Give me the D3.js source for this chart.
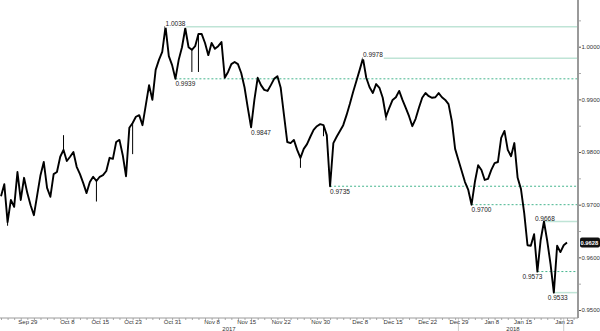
<!DOCTYPE html>
<html>
<head>
<meta charset="utf-8">
<style>
  body { margin: 0; background: #fff; }
  svg { display: block; font-family: "Liberation Sans", Arial, sans-serif; }
  .price { fill: none; stroke: #000; stroke-width: 1.9px; stroke-linejoin: round; }
  .wick { stroke: #000; stroke-width: 1px; }
  .lvl-solid { stroke: #bfe4d6; stroke-width: 1.5px; }
  .lvl-dashed { stroke: #45b58e; stroke-width: 1px; stroke-dasharray: 2,2; }
  .lvl-label { font-size: 6.5px; fill: #222; }
  .frame { stroke: #9a9a9a; fill: none; }
  .axis text { font-size: 6px; fill: #333; font-family: "Liberation Sans", Arial, sans-serif; }
  .axis .domain { display: none; }
  .axis line { stroke: #555; }
  .minor line { stroke: #aaa; }
</style>
</head>
<body>
<div id="chart"></div>
<script src="https://d3js.org/d3.v7.min.js"></script>
<script>
  var width = 600, height = 331;

  // half-day closes
  var closes = [
    0.9716, 0.9739, 0.9667, 0.9709, 0.9696, 0.9762, 0.9709, 0.9751, 0.9722, 0.9699,
    0.9680, 0.9718, 0.9756, 0.9781, 0.9732, 0.9715, 0.9758, 0.9762, 0.9791, 0.9804,
    0.9783, 0.9791, 0.9800, 0.9772, 0.9758, 0.9741, 0.9722, 0.9743, 0.9753, 0.9745,
    0.9753, 0.9756, 0.9764, 0.9789, 0.9787, 0.9819, 0.9823, 0.9794, 0.9754, 0.9846,
    0.9855, 0.9867, 0.9870, 0.9851, 0.9889, 0.9927, 0.9899, 0.9956, 0.9975, 0.9990,
    1.0038, 0.9982, 0.9965, 0.9939, 0.9975, 0.9999, 1.0035, 0.9999, 0.9994, 1.0001,
    1.0024, 1.0024, 1.0007, 0.9984, 1.0007, 0.9996, 1.0001, 1.0009, 0.9941, 0.9952,
    0.9967, 0.9971, 0.9967, 0.9950, 0.9923, 0.9884, 0.9847, 0.9899, 0.9941, 0.9927,
    0.9918, 0.9916, 0.9927, 0.9939, 0.9944, 0.9922, 0.9870, 0.9819, 0.9817, 0.9823,
    0.9804, 0.9789, 0.9806, 0.9815, 0.9829, 0.9842, 0.9849, 0.9853, 0.9851, 0.9832,
    0.9735, 0.9817, 0.9829, 0.9840, 0.9851, 0.9870, 0.9891, 0.9914, 0.9935, 0.9956,
    0.9978, 0.9941, 0.9923, 0.9912, 0.9929, 0.9922, 0.9903, 0.9867, 0.9884, 0.9899,
    0.9904, 0.9916, 0.9899, 0.9884, 0.9868, 0.9849, 0.9863, 0.9884, 0.9903, 0.9912,
    0.9906, 0.9903, 0.9904, 0.9912, 0.9904, 0.9899, 0.9891, 0.9859, 0.9806, 0.9785,
    0.9764, 0.9743, 0.9728, 0.9700, 0.9743, 0.9775, 0.9766, 0.9747, 0.9749, 0.9766,
    0.9779, 0.9781, 0.9827, 0.9840, 0.9804, 0.9792, 0.9817, 0.9751, 0.9730, 0.9684,
    0.9623, 0.9622, 0.9644, 0.9573, 0.9633, 0.9668, 0.9631, 0.9587, 0.9533, 0.9622,
    0.9610, 0.9623, 0.9628
  ];

  // a few visible wicks: [bar, extreme]
  var wicks = [[2, 0.9660], [19, 0.9832], [29, 0.9706], [40, 0.9796], [58, 0.9952],
               [60, 0.9952], [91, 0.9770], [98, 0.9830], [117, 0.9860]];

  var levelValues = [1.0038, 0.9978, 0.9939, 0.9847, 0.9735, 0.9700, 0.9668, 0.9573, 0.9533];
  var levelBars   = [50, 110, 53, 76, 100, 143, 165, 163, 168];
  var levelKinds  = ["solid", "solid", "dashed", "none", "dashed", "dashed", "solid", "dashed", "solid"];
  var levelSides  = ["high", "high", "low", "low", "low", "low", "high", "low", "low"];

  var tickBars   = [8, 20, 30, 40, 52, 64, 74.5, 85, 97, 109, 119, 129.5, 139, 149, 158.5, 171];
  var tickLabels = ["Sep 29", "Oct 8", "Oct 15", "Oct 23", "Oct 31", "Nov 8", "Nov 15", "Nov 22",
                    "Nov 30", "Dec 8", "Dec 15", "Dec 22", "Dec 29", "Jan 8", "Jan 15", "Jan 23"];
  var yearBars   = [69.3, 155.6];
  var yearLabels = ["2017", "2018"];
  var yearMarks  = [139, 171];

  var priceTicks = [0.95, 0.96, 0.97, 0.98, 0.99, 1.00];
  var priceMinor = [0.955, 0.965, 0.975, 0.985, 0.995, 1.005];

  var axisX = 578, axisY = 318;

  var x = d3.scaleLinear().domain([0, closes.length - 1]).range([1, 567]);
  var y = d3.scaleLinear().domain([0.95, 1.0]).range([310, 46.7]);

  var svg = d3.select("#chart").append("svg")
      .attr("width", width)
      .attr("height", height);

  // level lines
  levelValues.forEach(function(v, i) {
    if (levelKinds[i] === "none") return;
    svg.append("line")
        .attr("class", "lvl-" + levelKinds[i])
        .attr("x1", x(levelBars[i])).attr("x2", axisX)
        .attr("y1", y(v)).attr("y2", y(v));
  });

  // price line
  var line = d3.line()
      .x(function(d, i) { return x(i); })
      .y(function(d) { return y(d); });

  svg.append("g").selectAll("line")
      .data(wicks)
      .enter().append("line")
      .attr("class", "wick")
      .attr("x1", function(d) { return x(d[0]); })
      .attr("x2", function(d) { return x(d[0]); })
      .attr("y1", function(d) { return y(closes[d[0]]); })
      .attr("y2", function(d) { return y(d[1]); });

  svg.append("path")
      .datum(closes)
      .attr("class", "price")
      .attr("d", line);

  // level labels
  var fmt = d3.format(".4f");
  levelValues.forEach(function(v, i) {
    var lx = x(levelBars[i]), ly = y(v);
    var anchor = "start";
    if (v === 0.9573) { anchor = "end"; lx += 5; }
    if (v === 0.9533) { lx -= 6; }
    if (v === 0.9668) { lx -= 9; }
    var t = svg.append("text")
        .attr("class", "lvl-label")
        .attr("text-anchor", anchor)
        .attr("x", lx)
        .attr("y", levelSides[i] === "high" ? ly - 1 : ly + 7.5)
        .text(fmt(v));
    if (levelSides[i] === "high" && levelKinds[i] === "solid" && v > 0.99) {
      var b = t.node().getBBox();
      svg.insert("rect", "text.lvl-label")
          .attr("x", b.x - 0.5).attr("y", b.y)
          .attr("width", b.width + 1).attr("height", b.height + 1)
          .attr("fill", "#fff");
    }
  });

  // right price axis
  svg.append("g")
      .attr("class", "axis minor")
      .attr("transform", "translate(" + axisX + ",0)")
      .call(d3.axisRight(y).tickValues(priceMinor).tickSize(3).tickFormat(""));

  svg.append("g")
      .attr("class", "axis")
      .attr("transform", "translate(" + (axisX + 1) + ",0)")
      .call(d3.axisRight(y).tickValues(priceTicks).tickSize(2).tickPadding(0.5).tickFormat(fmt));

  // bottom time axis
  var days = d3.range(0, closes.length + 2, 2);
  svg.append("g")
      .attr("class", "axis minor")
      .attr("transform", "translate(0," + axisY + ")")
      .call(d3.axisBottom(x).tickValues(days).tickSize(2).tickFormat(""));

  svg.append("g")
      .attr("class", "axis")
      .attr("transform", "translate(0," + axisY + ")")
      .call(d3.axisBottom(x).tickValues(tickBars).tickSize(0).tickPadding(1.5)
        .tickFormat(function(d, i) { return tickLabels[i]; }));

  svg.selectAll(".yr")
      .data(yearMarks)
      .enter().append("line")
      .attr("class", "frame")
      .attr("x1", function(d) { return x(d); })
      .attr("x2", function(d) { return x(d); })
      .attr("y1", axisY).attr("y2", height)
      .attr("stroke-opacity", 0.5);

  svg.selectAll(".year")
      .data(yearLabels)
      .enter().append("text")
      .attr("font-size", "6px")
      .attr("text-anchor", "middle")
      .attr("x", function(d, i) { return x(yearBars[i]); })
      .attr("y", 330.5)
      .style("fill", "#333")
      .text(function(d) { return d; });

  // frame lines
  svg.append("line").attr("class", "frame")
      .attr("x1", 0).attr("x2", axisX).attr("y1", axisY).attr("y2", axisY);
  svg.append("line").attr("class", "frame").attr("stroke-width", 2)
      .attr("x1", axisX).attr("x2", axisX).attr("y1", 0).attr("y2", axisY);

  // last price tag
  var last = closes[closes.length - 1];
  svg.append("rect")
      .attr("x", axisX + 2).attr("y", y(last) - 5)
      .attr("width", 20).attr("height", 10).attr("rx", 2)
      .attr("fill", "#111");
  svg.append("text")
      .attr("x", axisX + 2.5).attr("y", y(last) + 2)
      .attr("font-size", "5.8px").attr("font-weight", "bold").attr("fill", "#fff")
      .text(fmt(last));
</script>
</body>
</html>
